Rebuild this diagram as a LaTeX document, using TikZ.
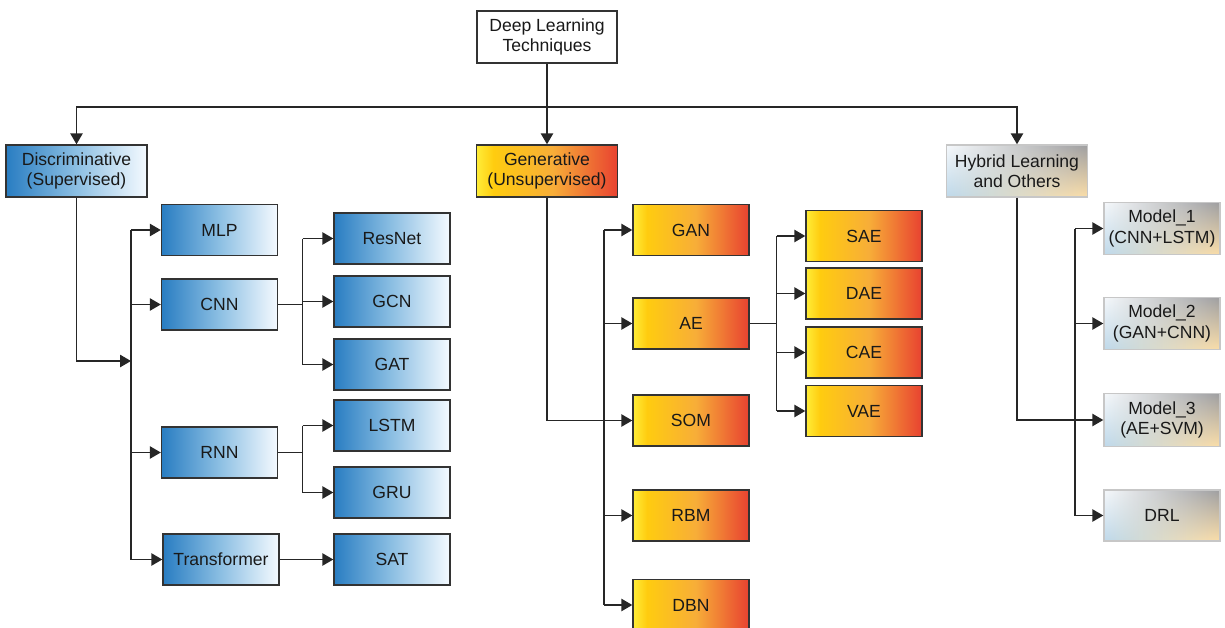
\documentclass[tikz,border=0pt]{standalone}
\usepackage{fontspec}
\setmainfont{Liberation Sans}
\usetikzlibrary{arrows.meta,fadings}

\pgfdeclarehorizontalshading{bluefade}{100bp}{rgb(0bp)=(0.16,0.49,0.76); rgb(25bp)=(0.16,0.49,0.76); rgb(50bp)=(0.55,0.75,0.89); rgb(75bp)=(0.96,0.98,1); rgb(100bp)=(0.96,0.98,1)}
\pgfdeclarehorizontalshading{orafade}{100bp}{rgb(0bp)=(1,0.93,0.22); rgb(25bp)=(1,0.93,0.22); rgb(31bp)=(1,0.80,0.06); rgb(52bp)=(0.97,0.68,0.22); rgb(75bp)=(0.91,0.26,0.19); rgb(100bp)=(0.91,0.26,0.19)}
\definecolor{hybBL}{RGB}{190,217,235}
\definecolor{hybBR}{RGB}{252,222,168}
\definecolor{hybTL}{RGB}{246,249,252}
\definecolor{hybTR}{RGB}{158,158,160}

\begin{document}
\begin{tikzpicture}[
	box/.style={minimum width=2.32cm,minimum height=1.02cm,inner sep=0pt,align=center,font=\fontsize{10}{11.5}\selectfont,text=black!90},
	bigbox/.style={box,minimum width=2.82cm,minimum height=1.04cm},
	blu/.style={draw=black!80,line width=0.8pt,shading=bluefade},
	ora/.style={draw=black!80,line width=0.8pt,shading=orafade},
	grayfill/.style={draw=black!22,line width=0.8pt,
		preaction={left color=hybBL,right color=hybBR},
		preaction={left color=hybTL,right color=hybTR,path fading=south}},
	arr/.style={line width=0.8pt,draw=black!85,-{Triangle[length=6.2pt,width=7pt]}},
	ln/.style={line width=0.8pt,draw=black!85}]
	\useasboundingbox (0,0) rectangle (24.5,-12.56);
	% top
	\node[box,draw=black!80,line width=0.8pt,fill=white,minimum width=2.8cm,minimum height=1.04cm] (dlt) at (10.94,-0.74) {Deep Learning\\Techniques};
	\node[bigbox,blu] (disc) at (1.53,-3.42) {Discriminative\\(Supervised)};
	\node[bigbox,ora] (gen) at (10.94,-3.42) {Generative\\(Unsupervised)};
	\node[bigbox,grayfill] (hyb) at (20.34,-3.42) {Hybrid Learning\\and Others};
	\coordinate (bus) at (10.94,-2.14);
	\draw[arr] (dlt) -- (gen);
	\draw[arr] (bus) -| (disc);
	\draw[arr] (bus) -| (hyb);
	% discriminative
	\node[box,blu] (mlp) at (4.39,-4.60) {MLP};
	\node[box,blu] (cnn) at (4.39,-6.09) {CNN};
	\node[box,blu] (rnn) at (4.39,-9.05) {RNN};
	\node[box,blu] (trf) at (4.42,-11.19) {Transformer};
	\node[box,blu] (resnet) at (7.84,-4.77) {ResNet};
	\node[box,blu] (gcn) at (7.84,-6.03) {GCN};
	\node[box,blu] (gat) at (7.84,-7.29) {GAT};
	\node[box,blu] (lstm) at (7.84,-8.51) {LSTM};
	\node[box,blu] (gru) at (7.84,-9.85) {GRU};
	\node[box,blu] (sat) at (7.84,-11.19) {SAT};
	\coordinate (dtr) at (2.62,-7.22);
	\draw[arr] (disc) |- (dtr);
	\draw[ln] (dtr|-mlp) -- (dtr|-trf);
	\foreach \n in {mlp,cnn,rnn,trf}
		\draw[arr] (dtr|-\n) -- (\n);
	\draw[ln] (cnn.east) -- ++(0.49,0) coordinate (cs);
	\draw[ln] (cs|-resnet) -- (cs|-gat);
	\foreach \n in {resnet,gcn,gat}
		\draw[arr] (cs|-\n) -- (\n);
	\draw[ln] (rnn.east) -- ++(0.49,0) coordinate (rs);
	\draw[ln] (rs|-lstm) -- (rs|-gru);
	\foreach \n in {lstm,gru}
		\draw[arr] (rs|-\n) -- (\n);
	\draw[arr] (trf) -- (sat);
	% generative
	\node[box,ora] (gan) at (13.82,-4.60) {GAN};
	\node[box,ora] (ae) at (13.82,-6.47) {AE};
	\node[box,ora] (som) at (13.82,-8.41) {SOM};
	\node[box,ora] (rbm) at (13.82,-10.31) {RBM};
	\node[box,ora] (dbn) at (13.82,-12.10) {DBN};
	\node[box,ora] (sae) at (17.28,-4.72) {SAE};
	\node[box,ora] (dae) at (17.28,-5.87) {DAE};
	\node[box,ora] (cae) at (17.28,-7.05) {CAE};
	\node[box,ora] (vae) at (17.28,-8.22) {VAE};
	\coordinate (gtr) at (12.08,-8.41);
	\draw[arr] (gen) |- (som);
	\draw[ln] (gtr|-gan) -- (gtr|-dbn);
	\foreach \n in {gan,ae,rbm,dbn}
		\draw[arr] (gtr|-\n) -- (\n);
	\draw[ln] (ae.east) -- ++(0.54,0) coordinate (as);
	\draw[ln] (as|-sae) -- (as|-vae);
	\foreach \n in {sae,dae,cae,vae}
		\draw[arr] (as|-\n) -- (\n);
	% hybrid
	\node[box,grayfill,minimum height=1.05cm] (mone) at (23.24,-4.57) {Model\_1\\(CNN+LSTM)};
	\node[box,grayfill,minimum height=1.05cm] (mtwo) at (23.24,-6.47) {Model\_2\\(GAN+CNN)};
	\node[box,grayfill,minimum height=1.05cm] (mthree) at (23.24,-8.40) {Model\_3\\(AE+SVM)};
	\node[box,grayfill] (drl) at (23.24,-10.31) {DRL};
	\coordinate (htr) at (21.50,-8.40);
	\draw[arr] (hyb) |- (mthree);
	\draw[ln] (htr|-mone) -- (htr|-drl);
	\foreach \n in {mone,mtwo,drl}
		\draw[arr] (htr|-\n) -- (\n);
\end{tikzpicture}
\end{document}
